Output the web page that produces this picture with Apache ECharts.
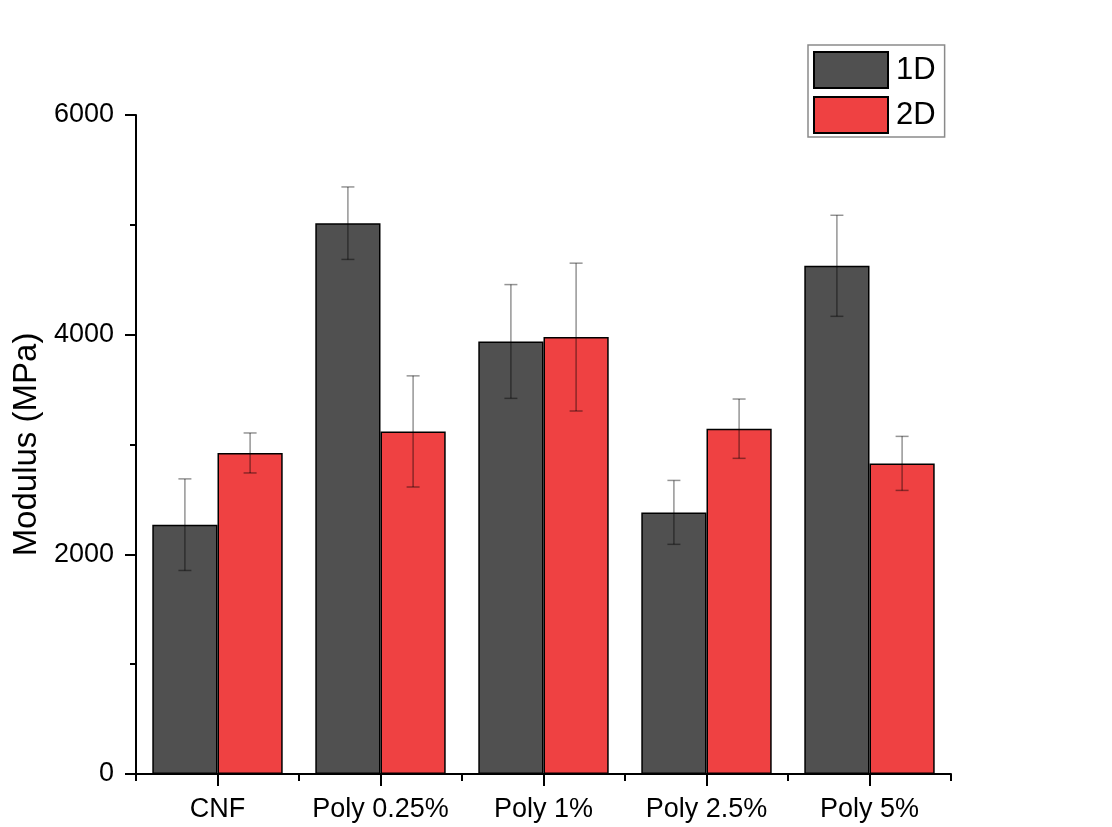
<!DOCTYPE html>
<html>
<head>
<meta charset="utf-8">
<title>Modulus</title>
<script src="https://cdn.jsdelivr.net/npm/echarts@6/dist/echarts.min.js"></script>
<style>
  html, body { margin: 0; padding: 0; background: #ffffff; }
  #chart { width: 1112px; height: 827px; }
</style>
</head>
<body>
<div id="chart"></div>
<script>
// Sample groups and measured modulus (MPa) with standard deviations
const categories = ['CNF', 'Poly 0.25%', 'Poly 1%', 'Poly 2.5%', 'Poly 5%'];
const seriesNames = ['1D', '2D'];
const values1D = [2270, 5015, 3938, 2382, 4627];
const errors1D = [417, 330, 518, 291, 460];
const values2D = [2923, 3119, 3978, 3144, 2828];
const errors2D = [182, 506, 673, 270, 246];
const yTicks = { min: 0, max: 6000, interval: 2000 };

const FONT = 'Liberation Sans, Arial, sans-serif';
const colors = ['#505050', '#ef4142'];
const barGapRatio = 0.2; // barCategoryGap as a fraction of the band

const chart = echarts.init(document.getElementById('chart'), null, { renderer: 'canvas' });

// Error bars: vertical whisker with caps, placed over each bar of a group
function errorRenderer(offsetSign, vals, errs) {
  return function (params, api) {
    const i = api.value(0);
    const v = vals[i], e = errs[i];
    const band = api.size([1, 0])[0];
    const shift = offsetSign * band * (1 - barGapRatio) / 4;
    const top = api.coord([i, v + e]);
    const bot = api.coord([i, v - e]);
    const x = top[0] + shift;
    const cap = 6.5;
    const style = { stroke: 'rgba(0,0,0,0.42)', lineWidth: 1.5 };
    return {
      type: 'group',
      children: [
        { type: 'line', shape: { x1: x, y1: top[1], x2: x, y2: bot[1] }, style },
        { type: 'line', shape: { x1: x - cap, y1: top[1], x2: x + cap, y2: top[1] }, style },
        { type: 'line', shape: { x1: x - cap, y1: bot[1], x2: x + cap, y2: bot[1] }, style }
      ]
    };
  };
}

const option = {
  animation: false,
  backgroundColor: '#ffffff',
  grid: { left: 136, right: 161, top: 115, bottom: 53, containLabel: false },
  legend: {
    orient: 'vertical',
    left: 808,
    top: 45,
    data: seriesNames,
    itemWidth: 74,
    itemHeight: 36,
    itemGap: 7,
    padding: [6, 9, 3, 5],
    borderColor: '#8a8a8a',
    borderWidth: 1.5,
    textStyle: { fontFamily: FONT, fontSize: 31, color: '#000', padding: [0, 0, 0, 3] },
    icon: 'rect'
  },
  xAxis: [
    {
      type: 'category',
      data: categories,
      position: 'bottom',
      axisLine: { show: true, lineStyle: { color: '#000', width: 2 } },
      axisTick: { show: true, alignWithLabel: true, length: 12, lineStyle: { color: '#000', width: 2 } },
      axisLabel: { fontFamily: FONT, fontSize: 27, color: '#000', margin: 22, interval: 0 },
      splitLine: { show: false }
    },
    {
      type: 'category',
      data: categories,
      position: 'bottom',
      axisLine: { show: false },
      axisTick: { show: true, alignWithLabel: false, length: 7, interval: 0, lineStyle: { color: '#000', width: 2 } },
      axisLabel: { show: false },
      splitLine: { show: false }
    }
  ],
  yAxis: {
    type: 'value',
    min: yTicks.min,
    max: yTicks.max,
    interval: yTicks.interval,
    name: 'Modulus (MPa)',
    nameLocation: 'middle',
    nameGap: 93,
    nameTextStyle: { fontFamily: FONT, fontSize: 33, color: '#000' },
    axisLine: { show: true, lineStyle: { color: '#000', width: 2 } },
    axisTick: { show: true, length: 11, lineStyle: { color: '#000', width: 2 } },
    minorTick: { show: true, splitNumber: 2, length: 6, lineStyle: { color: '#000', width: 2 } },
    axisLabel: { fontFamily: FONT, fontSize: 27, color: '#000', margin: 22, formatter: v => String(v) },
    splitLine: { show: false },
    minorSplitLine: { show: false }
  },
  series: [
    {
      name: seriesNames[0],
      type: 'bar',
      xAxisIndex: 0,
      data: values1D,
      barGap: '0%',
      barCategoryGap: (barGapRatio * 100) + '%',
      itemStyle: { color: colors[0], borderColor: '#000', borderWidth: 1.5 },
      z: 2
    },
    {
      name: seriesNames[1],
      type: 'bar',
      xAxisIndex: 0,
      data: values2D,
      barGap: '0%',
      barCategoryGap: (barGapRatio * 100) + '%',
      itemStyle: { color: colors[1], borderColor: '#000', borderWidth: 1.5 },
      z: 2
    },
    {
      type: 'custom',
      xAxisIndex: 0,
      renderItem: errorRenderer(-1, values1D, errors1D),
      data: values1D.map((v, i) => [i, v]),
      z: 5,
      silent: true
    },
    {
      type: 'custom',
      xAxisIndex: 0,
      renderItem: errorRenderer(1, values2D, errors2D),
      data: values2D.map((v, i) => [i, v]),
      z: 5,
      silent: true
    }
  ]
};

chart.setOption(option);
</script>
</body>
</html>
